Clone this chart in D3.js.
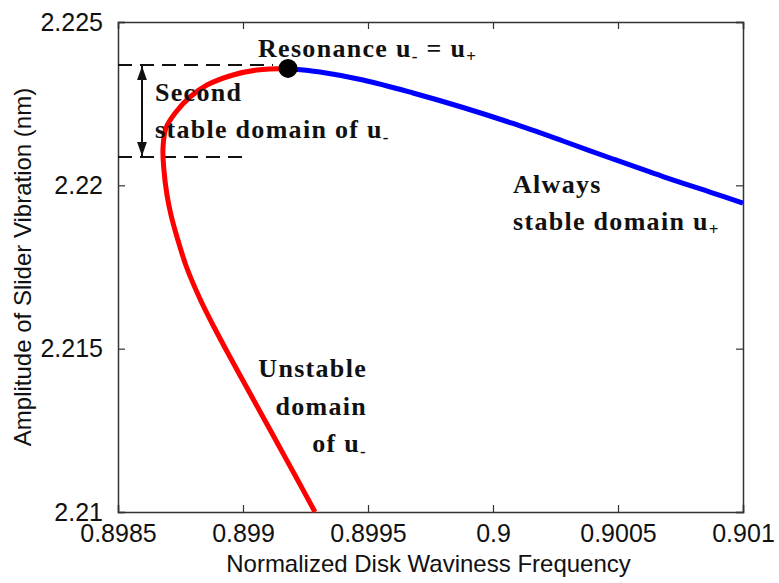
<!DOCTYPE html>
<html>
<head>
<meta charset="utf-8">
<script src="https://cdn.jsdelivr.net/npm/d3@7"></script>
<style>
  body { margin: 0; background: #fff; }
  .tick text { font-family: "Liberation Sans", Arial, sans-serif; }
</style>
</head>
<body>
<script>
// chart data
var xTicks = [0.8985, 0.899, 0.8995, 0.9, 0.9005, 0.901];
var yTicks = [2.21, 2.215, 2.22, 2.225];

// unstable / second stable branch u- (red), bottom up to resonance
var redX = [0.899288, 0.899212, 0.899146, 0.89908, 0.899014, 0.898948, 0.898884, 0.89883, 0.898774, 0.898736, 0.898712, 0.898696, 0.898683, 0.89868, 0.898692, 0.898732, 0.898788, 0.898856, 0.89896, 0.899056, 0.89918];
var redY = [2.21, 2.211071, 2.21199, 2.212908, 2.213827, 2.214745, 2.215663, 2.21649, 2.2175, 2.218418, 2.219092, 2.219704, 2.220531, 2.221143, 2.221755, 2.222245, 2.222704, 2.223071, 2.223378, 2.223531, 2.22358];

// always stable branch u+ (blue)
var blueX = [0.89918, 0.899308, 0.89948, 0.89968, 0.89988, 0.90008, 0.90028, 0.90048, 0.90068, 0.90088, 0.901];
var blueY = [2.22358, 2.223469, 2.223224, 2.222827, 2.222383, 2.221893, 2.221357, 2.220806, 2.22027, 2.219765, 2.219459];

var resonance = [0.89918, 2.22358];
var dashUpper = {y: 2.223684, x0: 0.8985, x1: 0.89912};
var dashLower = {y: 2.220867, x0: 0.8985, x1: 0.899};
var arrowX = 0.898596;

var W = 779, H = 583;
var margin = {top: 22, right: 36, bottom: 71, left: 118};
var width = W - margin.left - margin.right,
    height = H - margin.top - margin.bottom;

var x = d3.scaleLinear().domain([0.8985, 0.901]).range([0, width]);
var y = d3.scaleLinear().domain([2.21, 2.225]).range([height, 0]);

var svg = d3.select("body").append("svg")
    .attr("width", W)
    .attr("height", H);

var g = svg.append("g")
    .attr("transform", "translate(" + margin.left + "," + margin.top + ")");

// frame with inward ticks on every side
var fmt = function(d) { return String(+d.toFixed(4)); };
var axes = [
  d3.axisBottom(x).tickValues(xTicks).tickSize(-7).tickPadding(12).tickFormat(fmt),
  d3.axisTop(x).tickValues(xTicks).tickSize(-7).tickFormat(""),
  d3.axisLeft(y).tickValues(yTicks).tickSize(-7).tickPadding(15).tickFormat(fmt),
  d3.axisRight(y).tickValues(yTicks).tickSize(-7).tickFormat("")
];
var shifts = ["translate(0," + height + ")", null, null, "translate(" + width + ",0)"];
axes.forEach(function(a, i) {
  var ax = g.append("g").attr("transform", shifts[i]).call(a);
  ax.select(".domain").attr("stroke", "#333").attr("stroke-width", 1.5);
  ax.selectAll(".tick line").attr("stroke", "#333").attr("stroke-width", 1.2);
  ax.selectAll(".tick text").attr("font-size", 25).attr("fill", "#111");
});

// axis titles
svg.append("text")
    .attr("x", margin.left + width / 2 - 2)
    .attr("y", 572)
    .attr("text-anchor", "middle")
    .attr("font-family", "Liberation Sans, Arial, sans-serif")
    .attr("font-size", 24)
    .attr("fill", "#111")
    .text("Normalized Disk Waviness Frequency");

svg.append("text")
    .attr("transform", "translate(31," + (margin.top + height / 2) + ") rotate(-90)")
    .attr("text-anchor", "middle")
    .attr("font-family", "Liberation Sans, Arial, sans-serif")
    .attr("font-size", 24)
    .attr("fill", "#111")
    .text("Amplitude of Slider Vibration (nm)");

// dashed guides
[dashUpper, dashLower].forEach(function(d) {
  g.append("line")
      .attr("x1", x(d.x0)).attr("x2", x(d.x1))
      .attr("y1", y(d.y)).attr("y2", y(d.y))
      .attr("stroke", "#111")
      .attr("stroke-width", 2)
      .attr("stroke-dasharray", "14,8");
});

// double arrow between the guides
var defs = svg.append("defs");
defs.append("marker")
    .attr("id", "head")
    .attr("viewBox", "0 0 10 10")
    .attr("refX", 10).attr("refY", 5)
    .attr("markerWidth", 14).attr("markerHeight", 14)
    .attr("markerUnits", "userSpaceOnUse")
    .attr("orient", "auto-start-reverse")
  .append("path")
    .attr("d", "M0,1.5 L10,5 L0,8.5 Z")
    .attr("fill", "#111");

g.append("line")
    .attr("x1", x(arrowX)).attr("x2", x(arrowX))
    .attr("y1", y(dashUpper.y) + 1).attr("y2", y(dashLower.y) - 1)
    .attr("stroke", "#111")
    .attr("stroke-width", 2)
    .attr("marker-start", "url(#head)")
    .attr("marker-end", "url(#head)");

// branches
var line = d3.line()
    .x(function(d) { return x(d[0]); })
    .y(function(d) { return y(d[1]); })
    .curve(d3.curveCatmullRom.alpha(0.5));

var red = d3.zip(redX, redY);
var blue = d3.zip(blueX, blueY);

g.append("path").datum(red)
    .attr("d", line)
    .attr("fill", "none")
    .attr("stroke", "#ff0000")
    .attr("stroke-width", 5);

g.append("path").datum(blue)
    .attr("d", line)
    .attr("fill", "none")
    .attr("stroke", "#0000ff")
    .attr("stroke-width", 5);

g.append("circle")
    .attr("cx", x(resonance[0]))
    .attr("cy", y(resonance[1]))
    .attr("r", 9.5)
    .attr("fill", "#000");

// annotations
var serif = "Liberation Serif, Times New Roman, serif";
function label(px, py, anchor, parts) {
  var t = svg.append("text")
      .attr("x", px).attr("y", py)
      .attr("text-anchor", anchor)
      .attr("font-family", serif)
      .attr("font-weight", "bold")
      .attr("font-size", 26)
      .attr("letter-spacing", 1.3)
      .attr("fill", "#111");
  parts.forEach(function(p) {
    var s = t.append("tspan").text(p[0]);
    if (p[1] === "sub") s.attr("font-size", 17).attr("dy", 5);
    if (p[1] === "up") s.attr("dy", -5);
  });
}

label(258, 57, "start", [["Resonance u"], ["-", "sub"], [" = u", "up"], ["+", "sub"]]);
label(155, 101, "start", [["Second"]]);
label(155, 138, "start", [["stable domain of u"], ["-", "sub"]]);
label(513, 193, "start", [["Always"]]);
label(513, 230, "start", [["stable domain u"], ["+", "sub"]]);
label(367, 377, "end", [["Unstable"]]);
label(367, 415, "end", [["domain"]]);
label(367, 452, "end", [["of u"], ["-", "sub"]]);
</script>
</body>
</html>
